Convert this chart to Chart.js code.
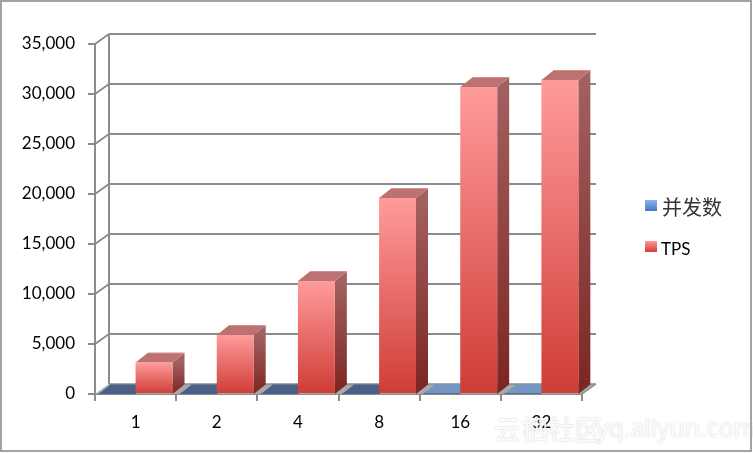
<!DOCTYPE html>
<html>
<head>
<meta charset="utf-8">
<script src="https://cdn.jsdelivr.net/npm/chart.js@4"></script>
<style>
  html, body { margin: 0; padding: 0; background: #fff; }
  canvas { display: block; }
</style>
</head>
<body>
<canvas id="bar-chart" width="753" height="453"></canvas>
<script>
const labels = ['1', '2', '4', '8', '16', '32'];
const concurrency = [1, 2, 4, 8, 16, 32];
const tps = [3150, 5900, 11300, 19600, 30700, 31400];
const seriesNames = ['并发数', 'TPS'];
const floorBlues = ['#4a6088', '#4a6088', '#4a6088', '#4a6088', '#7295c4', '#7295c4'];

const DX = 12, DY = 9.5;      // depth of a bar
const WALL_DX = 14, WALL_DY = 10;  // depth of the back wall
const LINE = '#8c8c8c';

function line(ctx, x1, y1, x2, y2) {
  ctx.beginPath();
  ctx.moveTo(x1, y1);
  ctx.lineTo(x2, y2);
  ctx.stroke();
}

function poly(ctx, pts, fill) {
  ctx.beginPath();
  ctx.moveTo(pts[0], pts[1]);
  for (let i = 2; i < pts.length; i += 2) ctx.lineTo(pts[i], pts[i + 1]);
  ctx.closePath();
  ctx.fillStyle = fill;
  ctx.fill();
}

function vGrad(ctx, y1, y2, c1, c2) {
  const g = ctx.createLinearGradient(0, y1, 0, y2);
  g.addColorStop(0, c1);
  g.addColorStop(1, c2);
  return g;
}

// the front face is the real bar, the rest of the box is drawn around it
const box3d = {
  id: 'box3d',
  beforeDatasetsDraw(chart) {
    const ctx = chart.ctx;
    const { left, right, top, bottom } = chart.chartArea;
    const yScale = chart.scales.y;
    ctx.save();

    // back wall
    ctx.strokeStyle = LINE;
    ctx.lineWidth = 2;
    yScale.ticks.forEach(t => {
      const y = yScale.getPixelForValue(t.value);
      if (t.value > 0) line(ctx, left, y, left + WALL_DX, y - WALL_DY);
      if (t.value > 0) line(ctx, left + WALL_DX, y - WALL_DY, right + WALL_DX, y - WALL_DY);
    });
    line(ctx, left + WALL_DX, top - WALL_DY, left + WALL_DX, bottom - WALL_DY);

    // floor
    poly(ctx, [left, bottom, right, bottom, right + WALL_DX, bottom - WALL_DY, left + WALL_DX, bottom - WALL_DY], '#a9a9a9');
    ctx.lineWidth = 1.5;
    line(ctx, right, bottom, right + WALL_DX, bottom - WALL_DY);
    line(ctx, left + WALL_DX, bottom - WALL_DY, right + WALL_DX, bottom - WALL_DY);

    // blue series: flat, only the lid can be seen
    chart.getDatasetMeta(0).data.forEach((bar, i) => {
      const x1 = bar.x - bar.width / 2, x2 = bar.x + bar.width / 2, y = bar.y;
      poly(ctx, [x1, y, x2, y, x2 + DX, y - DY, x1 + DX, y - DY], floorBlues[i]);
    });

    // red series: side and lid
    chart.getDatasetMeta(1).data.forEach(bar => {
      const x2 = bar.x + bar.width / 2, x1 = bar.x - bar.width / 2, y = bar.y;
      poly(ctx, [x2, y, x2 + DX, y - DY, x2 + DX, bottom - DY, x2, bottom],
        vGrad(ctx, y, bottom, '#a26060', '#7c2522'));
      poly(ctx, [x1, y, x2, y, x2 + DX, y - DY, x1 + DX, y - DY], '#bd7272');
      ctx.strokeStyle = '#d98f8f';
      ctx.lineWidth = 1;
      line(ctx, x1 + DX, y - DY, x2 + DX, y - DY);
    });
    ctx.restore();
  },
  afterDraw(chart) {
    const ctx = chart.ctx;
    ctx.save();

    // legend
    const names = chart.data.datasets.map(d => d.label);
    poly(ctx, [645, 200, 657, 200, 657, 211, 645, 211], vGrad(ctx, 200, 211, '#8db4ee', '#3f79c6'));
    poly(ctx, [645, 241, 657, 241, 657, 252, 645, 252], vGrad(ctx, 241, 252, '#ff9a9a', '#cf3c36'));
    ctx.textBaseline = 'middle';
    ctx.fillStyle = '#333';
    ctx.font = '20px "Noto Sans CJK SC"';
    ctx.fillText(names[0], 662, 207);
    ctx.fillStyle = '#000';
    ctx.font = '17px Lato';
    ctx.fillText(names[1], 661, 250);

    // watermark
    ctx.font = '27px "Noto Sans CJK SC"';
    ctx.shadowColor = 'rgba(120,120,120,.45)';
    ctx.shadowBlur = 2;
    ctx.fillStyle = 'rgba(255,255,255,.9)';
    ctx.fillText('云栖社区', 494, 430);
    ctx.font = '25px "Open Sans"';
    ctx.fillText('yq.aliyun.com', 596, 430);
    ctx.shadowColor = 'transparent';

    // frame of the picture
    ctx.strokeStyle = '#a3a3a3';
    ctx.lineWidth = 2;
    ctx.strokeRect(1, 1, 750, 450);
    ctx.restore();
  }
};

new Chart(document.getElementById('bar-chart'), {
  type: 'bar',
  data: {
    labels: labels,
    datasets: [{
      label: seriesNames[0],
      data: concurrency,
      backgroundColor: '#4a6088',
      categoryPercentage: 0.91,
      barPercentage: 1
    }, {
      label: seriesNames[1],
      data: tps,
      backgroundColor(c) {
        const chart = c.chart;
        if (!chart.chartArea || c.raw === undefined) return '#e06060';
        return vGrad(chart.ctx, chart.scales.y.getPixelForValue(c.raw), chart.chartArea.bottom, '#ff9b9b', '#cf3c36');
      },
      categoryPercentage: 0.91,
      barPercentage: 1
    }]
  },
  plugins: [box3d],
  options: {
    responsive: false,
    animation: false,
    layout: { padding: { top: 44, right: 171, left: 0, bottom: 0 } },
    plugins: { legend: { display: false }, tooltip: { enabled: false } },
    scales: {
      x: {
        afterFit(scale) { scale.height = 59; },
        border: { color: LINE, width: 2 },
        grid: { drawOnChartArea: false, color: LINE, lineWidth: 2, tickLength: 7 },
        ticks: { color: '#000', padding: 11, font: { family: 'Lato', size: 17 } }
      },
      y: {
        min: 0,
        max: 35000,
        afterFit(scale) { scale.width = 95; },
        border: { color: LINE, width: 2 },
        grid: { drawOnChartArea: false, color: LINE, lineWidth: 2, tickLength: 7 },
        ticks: { stepSize: 5000, color: '#000', padding: 13, font: { family: 'Lato', size: 17 } }
      }
    }
  }
});
</script>
</body>
</html>
